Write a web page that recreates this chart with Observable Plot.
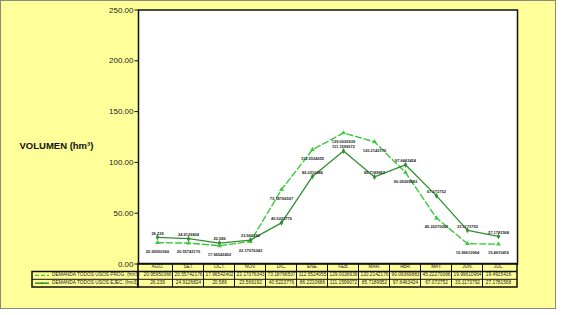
<!DOCTYPE html>
<html>
<head>
<meta charset="utf-8">
<script src="https://cdn.jsdelivr.net/npm/d3@7"></script>
<script src="https://cdn.jsdelivr.net/npm/@observablehq/plot@0.6"></script>
<style>
  html, body { margin: 0; padding: 0; background: #ffffff; }
  #wrap { position: relative; width: 561px; height: 315px; overflow: hidden; background: #ffffff; }
  #box { position: absolute; left: 0; top: 0; width: 556px; height: 309px; box-sizing: border-box;
         background: #FFFF99; border: 1px solid #8a8a7a; }
  #chart { position: absolute; left: 0; top: 0; }
</style>
</head>
<body>
<div id="wrap"><div id="box"></div><div id="chart"></div></div>
<script>
const months = ["AGO.", "SET.", "OCT.", "NOV.", "DIC.", "ENE.", "FEB.", "MAR.", "ABR.", "MAY.", "JUN.", "JUL."];
const progValues = [20.95950366, 20.55742176, 17.96542402, 22.17076343, 73.18766507, 112.5524055, 129.0026939, 120.2142176, 90.09369883, 45.22270066, 19.99610964, 19.4915416];
const ejecValues = [26.239, 24.9126824, 20.586, 23.566192, 40.5223776, 86.2210686, 111.1599072, 85.7189952, 97.6463424, 67.072752, 33.1173792, 27.1781568];
const progName = "DEMANDA TODOS USOS PROG. (hm3)";
const ejecName = "DEMANDA TODOS USOS EJEC. (hm3)";
const yTicks = [0, 50, 100, 150, 200, 250];
const yLabel = "VOLUMEN (hm³)";

const progColor = "#3CC83C";
const ejecColor = "#2F8F2F";

const prog = months.map((m, i) => ({month: m, value: progValues[i]}));
const ejec = months.map((m, i) => ({month: m, value: ejecValues[i]}));

const rowH = [8, 7.8, 7.7];

function tableGrid(index, scales, values, dimensions) {
  const x = scales.x;
  const {width, height, marginLeft, marginRight, marginBottom} = dimensions;
  const left = marginLeft, right = width - marginRight;
  const y0 = height - marginBottom;
  const y1 = y0 + rowH[0], y2 = y1 + rowH[1], y3 = y2 + rowH[2];
  const step = x(months[1]) - x(months[0]);
  const legendLeft = 32;
  const g = d3.create("svg:g");
  // inner vertical lines between data columns
  months.slice(1).forEach(m => {
    const xv = x(m) - step / 2;
    g.append("line").attr("x1", xv).attr("x2", xv).attr("y1", y0).attr("y2", y3)
      .attr("stroke", "#111").attr("stroke-width", 1);
  });
  // horizontal inner lines
  [y1, y2].forEach(yv => {
    g.append("line").attr("x1", yv === y1 ? left : legendLeft).attr("x2", right)
      .attr("y1", yv).attr("y2", yv).attr("stroke", "#111").attr("stroke-width", yv === y1 ? 1.5 : 1);
  });
  // outer borders
  g.append("rect").attr("x", left).attr("y", y0).attr("width", right - left).attr("height", y3 - y0)
    .attr("fill", "none").attr("stroke", "#111").attr("stroke-width", 1.5);
  g.append("rect").attr("x", legendLeft).attr("y", y1).attr("width", left - legendLeft).attr("height", y3 - y1)
    .attr("fill", "none").attr("stroke", "#111").attr("stroke-width", 1.5);
  // legend samples
  const c1 = (y1 + y2) / 2, c2 = (y2 + y3) / 2;
  g.append("line").attr("x1", 35).attr("x2", 49).attr("y1", c1).attr("y2", c1)
    .attr("stroke", progColor).attr("stroke-width", 1.3).attr("stroke-dasharray", "4,2");
  g.append("line").attr("x1", 35).attr("x2", 49).attr("y1", c2).attr("y2", c2)
    .attr("stroke", ejecColor).attr("stroke-width", 1.5);
  g.append("circle").attr("cx", 42).attr("cy", c2).attr("r", 1).attr("fill", ejecColor);
  return g.node();
}

const tableFont = 4.8;
const y0dy = rowH[0] / 2;
const y1dy = rowH[0] + rowH[1] / 2;
const y2dy = rowH[0] + rowH[1] + rowH[2] / 2;

const chart = Plot.plot({
  width: 561,
  height: 315,
  marginLeft: 138,
  marginRight: 44,
  marginTop: 9.5,
  marginBottom: 51.5,
  style: {background: "transparent", fontFamily: "'Liberation Sans', Arial, sans-serif", fontSize: "8px", color: "#222"},
  x: {type: "point", domain: months, padding: 0.5, axis: null},
  y: {domain: [0, 250], axis: null},
  marks: [
    Plot.frame({fill: "white", stroke: "#111", strokeWidth: 1.5}),
    Plot.axisY({ticks: yTicks, tickFormat: d3.format(".2f"), tickSize: 3.5, tickPadding: 1.5, label: null, stroke: "#111", fill: "#222", fontSize: 8}),
    Plot.text([yLabel], {frameAnchor: "left", dx: -119, dy: 8.5, textAnchor: "start", fontWeight: "bold", fontSize: 9.5, fill: "#111"}),
    Plot.line(prog, {x: "month", y: "value", stroke: progColor, strokeWidth: 1.4, strokeDasharray: "6,3"}),
    Plot.line(ejec, {x: "month", y: "value", stroke: ejecColor, strokeWidth: 1.3}),
    Plot.dot(prog, {x: "month", y: "value", symbol: "triangle", r: 1.8, fill: progColor}),
    Plot.dot(ejec, {x: "month", y: "value", symbol: "diamond", r: 1.8, fill: ejecColor}),
    Plot.text(prog, {x: "month", y: "value", text: d => String(d.value), dy: 9, fontSize: 4, fontWeight: "bold", fill: "#222"}),
    Plot.text(ejec, {x: "month", y: "value", text: d => String(d.value), dy: -4, fontSize: 4, fontWeight: "bold", fill: "#222"}),
    tableGrid,
    Plot.text(months, {x: d => d, frameAnchor: "bottom", dy: y0dy, fontSize: tableFont, fill: "#222"}),
    Plot.text(progValues, {x: (d, i) => months[i], frameAnchor: "bottom", dy: y1dy, text: d => String(d), fontSize: tableFont, fill: "#222"}),
    Plot.text(ejecValues, {x: (d, i) => months[i], frameAnchor: "bottom", dy: y2dy, text: d => String(d), fontSize: tableFont, fill: "#222"}),
    Plot.text([progName], {frameAnchor: "bottom-left", dx: -86.5, dy: y1dy, textAnchor: "start", fontSize: tableFont, fill: "#222"}),
    Plot.text([ejecName], {frameAnchor: "bottom-left", dx: -86.5, dy: y2dy, textAnchor: "start", fontSize: tableFont, fill: "#222"})
  ]
});
document.getElementById("chart").appendChild(chart);
</script>
</body>
</html>
